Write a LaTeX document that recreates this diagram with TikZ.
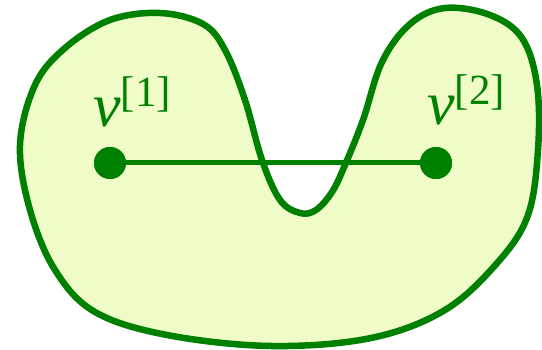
\documentclass[tikz,border=0pt]{standalone}
\usepackage{fontspec}
\setmainfont{Liberation Serif}
\definecolor{dg}{RGB}{0,128,0}
\definecolor{lf}{RGB}{240,252,200}
\begin{document}
\begin{tikzpicture}[x=1pt,y=-1pt,
  outline/.style={draw=dg,line width=6.5pt,fill=lf},
  edgeline/.style={draw=dg,line width=5pt},
  vert/.style={circle,fill=dg,inner sep=0pt,minimum size=32pt},
  lab/.style={text=dg,inner sep=0pt,anchor=base west,font=\fontsize{62}{62}\selectfont}]
\useasboundingbox (0,0) rectangle (542,350);
\draw[outline] plot[smooth cycle,tension=0.6] coordinates {
 (20,145) (35,85) (65,48) (110,20) (160,13) (203,24) (225,50) (245,100)
 (262,160) (280,200) (300,213) (316,210) (332,192) (345,165) (363,120) (382,62)
 (410,24) (445,8) (490,15) (522,38) (537,85) (538,150) (528,215)
 (498,262) (445,310) (371,338) (271,346) (167,335) (95,312) (55,270)
 (30,210)};
\node[vert] (v1) at (110,163) {};
\node[vert] (v2) at (436,163) {};
\draw[edgeline] (v1.center) -- (v2.center);
\node[vert] at (v1) {};
\node[vert] at (v2) {};
\node[lab] (l1) at (93,127) {\textit{v}\raisebox{20pt}{\fontsize{43}{43}\selectfont[1]}};
\node[lab] (l2) at (427,125) {\textit{v}\raisebox{20pt}{\fontsize{43}{43}\selectfont[2]}};
\end{tikzpicture}
\end{document}
